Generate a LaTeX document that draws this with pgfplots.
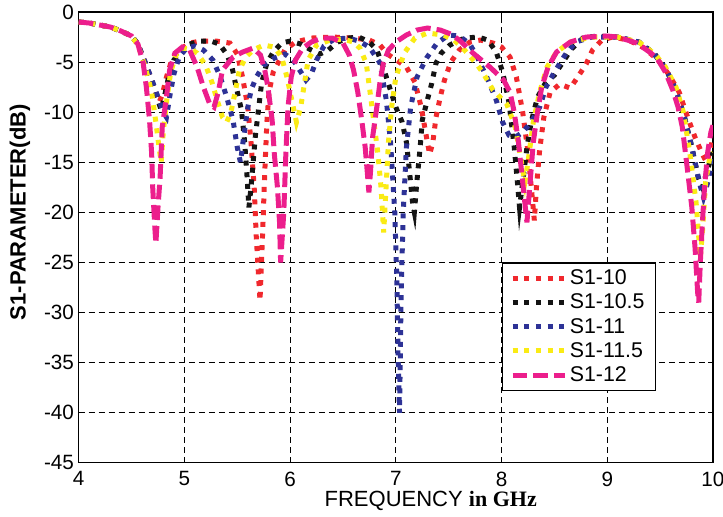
\documentclass[border=0pt]{standalone}
\usepackage{fontspec}
\setmainfont{Liberation Sans}
\newfontfamily\timesfont{Liberation Serif}
\usepackage{pgfplots}
\pgfplotsset{compat=1.18}
\definecolor{sred}{RGB}{240,40,45}
\definecolor{sblack}{RGB}{20,20,20}
\definecolor{sblue}{RGB}{45,50,150}
\definecolor{syellow}{RGB}{250,235,20}
\definecolor{smag}{RGB}{236,30,140}

\begin{document}
\begin{tikzpicture}
\useasboundingbox (-59pt,-40.5pt) rectangle (483pt,347pt);
\begin{axis}[
    at={(0pt,0pt)}, anchor=south west,
    scale only axis,
    width=475.5pt, height=338pt,
    xmin=4, xmax=10, ymin=-45, ymax=0,
    xtick={4,5,...,10},
    ytick={-45,-40,...,0},
    grid=major,
    major grid style={black, line width=0.7pt, dash pattern=on 4.5pt off 3pt},
    axis line style={black, line width=0.8pt},
    tick align=inside, tick pos=both,
    major tick length=4pt,
    tick style={black, line width=0.6pt},
    /pgf/number format/assume math mode=true,
    ticklabel style={font=\fontsize{15.5}{18}\selectfont},
    xticklabel style={yshift=-3pt},
    xlabel={FREQUENCY {\timesfont\bfseries in GHz}},
    ylabel={\bfseries S1-PARAMETER(dB)},
    label style={font=\fontsize{16.5}{20}\selectfont},
    xlabel style={at={([yshift=-32.5pt]rel axis cs:0.555,0)}, anchor=base},
    ylabel style={at={([xshift=-44pt]rel axis cs:0,0.556)}, anchor=center},
    legend style={at={(axis cs:8,-25)}, anchor=north west, draw=black, line width=0.8pt,
        font=\fontsize{16}{19}\selectfont, inner xsep=6pt, inner ysep=3pt, row sep=1.5pt},
    legend cell align=left,
    legend image code/.code={\draw[#1] (0pt,0pt) -- (39pt,0pt);},
]
\addplot[sred, line width=3.75pt, dash pattern=on 3.75pt off 5pt] coordinates {
(4.0,-1.0) (4.1,-1.1) (4.2,-1.3) (4.3,-1.5) (4.4,-1.9) (4.5,-2.4) (4.56,-3.2)
(4.62,-4.8) (4.68,-6.5) (4.73,-8.2) (4.76,-9.0) (4.79,-8.3) (4.83,-6.5) (4.88,-4.8)
(4.95,-3.8) (5.05,-3.1) (5.15,-2.9) (5.30,-2.9) (5.43,-3.1) (5.50,-4.2) (5.55,-6.5)
(5.60,-9.5) (5.63,-13) (5.66,-17.5) (5.68,-22.5) (5.715,-28.8) (5.74,-22) (5.76,-16)
(5.78,-11) (5.80,-8) (5.84,-6) (5.88,-5.2) (5.95,-3.8) (6.05,-3.0) (6.20,-2.6)
(6.40,-2.5) (6.60,-2.6) (6.75,-2.8) (6.85,-3.3) (6.92,-4.2) (7.02,-4.9) (7.10,-5.5)
(7.18,-7.0) (7.24,-9.5) (7.29,-12.5) (7.32,-14.2) (7.35,-13) (7.38,-10.5) (7.42,-8.5)
(7.46,-6.8) (7.52,-5.0) (7.60,-3.8) (7.70,-3.0) (7.80,-2.8) (7.92,-3.1) (8.00,-3.5)
(8.08,-4.5) (8.14,-6.5) (8.20,-10) (8.25,-14) (8.29,-18.5) (8.31,-20.8) (8.33,-17.5)
(8.36,-13.8) (8.40,-10.5) (8.46,-8.0) (8.55,-7.2) (8.65,-7.6) (8.72,-6.5) (8.80,-5.2)
(8.86,-3.8) (8.95,-2.8) (9.05,-2.5) (9.20,-2.8) (9.35,-3.6) (9.48,-4.8) (9.58,-6.2)
(9.68,-8.0) (9.76,-10.5) (9.83,-12.5) (9.90,-14.2) (9.94,-15) (9.97,-14) (10.0,-12.5)
};
\addlegendentry{S1-10}
\addplot[sblack, line width=3.75pt, dash pattern=on 3.75pt off 5pt] coordinates {
(4.0,-1.0) (4.1,-1.1) (4.2,-1.3) (4.3,-1.5) (4.4,-1.9) (4.5,-2.4) (4.56,-3.2)
(4.64,-5.5) (4.70,-7.1) (4.75,-8.8) (4.78,-9.8) (4.81,-8.5) (4.85,-6.5) (4.90,-4.8)
(4.97,-3.8) (5.05,-3.2) (5.15,-2.9) (5.25,-2.9) (5.33,-3.2) (5.40,-4.2) (5.45,-5.5)
(5.49,-7.5) (5.54,-9.8) (5.57,-13) (5.59,-16) (5.61,-19.5) (5.63,-17.5) (5.65,-15)
(5.67,-12.5) (5.70,-9.8) (5.73,-7.1) (5.78,-5.1) (5.84,-4.0) (5.92,-3.1) (6.00,-2.9)
(6.10,-3.2) (6.20,-3.8) (6.28,-4.2) (6.36,-3.8) (6.45,-3.0) (6.55,-2.6) (6.65,-2.5)
(6.75,-3.0) (6.82,-3.8) (6.88,-5.5) (6.94,-7.5) (7.00,-9.5) (7.06,-11) (7.10,-13)
(7.13,-16) (7.16,-19.2) (7.175,-20) (7.20,-16.8) (7.23,-13.5) (7.25,-10.8) (7.29,-9.1)
(7.34,-7.1) (7.38,-5.1) (7.43,-4.1) (7.51,-3.3) (7.65,-2.6) (7.78,-2.5) (7.87,-2.8)
(7.95,-4.0) (8.01,-6.0) (8.07,-9.0) (8.12,-13.5) (8.15,-17) (8.17,-19.5) (8.20,-17)
(8.24,-13.5) (8.28,-11) (8.34,-8.5) (8.42,-7.0) (8.50,-6.3) (8.58,-5.0) (8.66,-3.7)
(8.77,-2.6) (8.90,-2.4) (9.10,-2.5) (9.30,-3.0) (9.45,-4.2) (9.55,-5.6) (9.65,-7.8)
(9.73,-10.5) (9.80,-13.5) (9.86,-16.5) (9.90,-17.5) (9.94,-16) (10.0,-14)
};
\addlegendentry{S1-10.5}
\addplot[sblue, line width=3.75pt, dash pattern=on 3.75pt off 5pt] coordinates {
(4.0,-1.0) (4.1,-1.1) (4.2,-1.3) (4.3,-1.5) (4.4,-1.9) (4.5,-2.4) (4.56,-3.2)
(4.64,-5.3) (4.70,-7.0) (4.76,-8.8) (4.80,-10.0) (4.83,-10.5) (4.86,-8.5) (4.90,-6.2)
(4.95,-4.5) (5.02,-3.6) (5.10,-3.4) (5.18,-3.8) (5.27,-4.8) (5.34,-6.5) (5.40,-8.5)
(5.46,-10.8) (5.50,-13.5) (5.53,-15) (5.56,-12.5) (5.60,-9.5) (5.63,-7.8) (5.68,-6.5)
(5.75,-5.3) (5.85,-4.6) (5.95,-4.2) (6.03,-4.8) (6.09,-5.8) (6.15,-6.8) (6.20,-6.2)
(6.25,-4.8) (6.32,-3.4) (6.42,-2.7) (6.55,-2.6) (6.65,-2.9) (6.75,-3.5) (6.85,-5.1)
(6.91,-8.8) (6.95,-13) (6.99,-20) (7.01,-27) (7.02,-34) (7.035,-40) (7.05,-28)
(7.07,-20) (7.10,-13.5) (7.14,-9.5) (7.20,-6.5) (7.29,-4.6) (7.39,-3.1) (7.50,-2.3)
(7.60,-2.4) (7.70,-3.2) (7.77,-4.5) (7.86,-6.5) (7.95,-8.8) (8.01,-11) (8.07,-12.3)
(8.13,-12.5) (8.20,-12) (8.28,-11) (8.36,-9.5) (8.42,-7.5) (8.50,-6.0) (8.60,-4.3)
(8.70,-3.0) (8.85,-2.5) (9.10,-2.5) (9.30,-3.0) (9.45,-4.3) (9.55,-5.6) (9.65,-7.8)
(9.73,-10.5) (9.80,-13.5) (9.87,-17) (9.91,-18.5) (9.95,-17) (10.0,-14.5)
};
\addlegendentry{S1-11}
\addplot[syellow, line width=3.75pt, dash pattern=on 3.75pt off 5pt] coordinates {
(4.0,-1.0) (4.1,-1.1) (4.2,-1.3) (4.3,-1.5) (4.4,-1.9) (4.5,-2.4) (4.56,-3.3)
(4.63,-5.5) (4.69,-8) (4.73,-11) (4.76,-13.5) (4.78,-15) (4.80,-12) (4.83,-9)
(4.87,-6) (4.92,-4.3) (4.98,-3.6) (5.06,-3.7) (5.12,-4.1) (5.20,-5.3) (5.26,-7.0)
(5.31,-8.8) (5.36,-10.5) (5.40,-11) (5.44,-10) (5.48,-8) (5.52,-5.8) (5.58,-4.5)
(5.65,-3.8) (5.75,-3.3) (5.85,-3.5) (5.92,-4.5) (5.97,-6.5) (6.02,-9) (6.06,-11)
(6.10,-9.5) (6.13,-7.5) (6.17,-4.8) (6.25,-3.3) (6.38,-2.8) (6.50,-2.7) (6.60,-3.0)
(6.66,-3.6) (6.72,-5.1) (6.75,-7.5) (6.79,-10.8) (6.83,-14.1) (6.86,-17.5) (6.885,-22)
(6.91,-17) (6.93,-13) (6.96,-9.5) (7.00,-6.5) (7.08,-4.1) (7.18,-2.6) (7.30,-2.1)
(7.45,-2.3) (7.55,-2.8) (7.65,-3.8) (7.75,-5.0) (7.82,-6.0) (7.92,-7.8) (8.05,-9.2)
(8.13,-11.5) (8.18,-14.5) (8.22,-17) (8.25,-15) (8.30,-11) (8.36,-8) (8.43,-5.5)
(8.52,-4.0) (8.65,-3.0) (8.85,-2.5) (9.10,-2.5) (9.30,-3.0) (9.45,-4.2) (9.55,-5.5)
(9.65,-7.5) (9.72,-10) (9.78,-14) (9.84,-19) (9.88,-24.5) (9.90,-22) (9.93,-17)
(9.97,-14.5) (10.0,-14)
};
\addlegendentry{S1-11.5}
\addplot[smag, line width=3.75pt, dash pattern=on 11pt off 4.5pt] coordinates {
(4.0,-1.0) (4.1,-1.1) (4.2,-1.3) (4.3,-1.5) (4.4,-1.9) (4.5,-2.4) (4.56,-3.2)
(4.61,-5.1) (4.64,-7.5) (4.67,-10.8) (4.69,-14.1) (4.70,-17.5) (4.72,-21.5) (4.73,-23.1)
(4.75,-19.5) (4.77,-16.5) (4.79,-11.5) (4.83,-8.5) (4.86,-5.8) (4.91,-4.1) (4.98,-3.5)
(5.05,-3.8) (5.12,-5.5) (5.18,-7.5) (5.24,-9.2) (5.28,-9.5) (5.32,-8.0) (5.36,-5.8)
(5.46,-4.5) (5.55,-4.0) (5.65,-3.6) (5.72,-4.3) (5.76,-5.8) (5.79,-7.5) (5.83,-10.8)
(5.85,-14.1) (5.88,-17.5) (5.90,-21) (5.91,-25) (5.94,-20) (5.96,-14) (5.98,-9.5)
(6.01,-6.5) (6.05,-4.8) (6.12,-3.6) (6.20,-3.0) (6.30,-2.6) (6.40,-2.6) (6.50,-3.1)
(6.56,-4.3) (6.60,-5.8) (6.64,-8.0) (6.68,-11) (6.71,-13.5) (6.73,-16) (6.745,-18)
(6.76,-16) (6.78,-12.5) (6.82,-9.5) (6.85,-7.0) (6.88,-5.2) (6.93,-3.8) (7.00,-3.0)
(7.10,-2.3) (7.20,-1.8) (7.30,-1.6) (7.42,-1.8) (7.52,-2.2) (7.60,-2.8) (7.73,-4.1)
(7.89,-5.5) (8.02,-6.8) (8.08,-8.0) (8.12,-10) (8.16,-13) (8.19,-16) (8.22,-19)
(8.24,-21) (8.27,-17) (8.30,-13) (8.34,-10) (8.38,-7.5) (8.44,-5.5) (8.52,-4.0)
(8.65,-3.0) (8.80,-2.5) (9.00,-2.4) (9.10,-2.5) (9.28,-3.1) (9.40,-4.0) (9.47,-4.6)
(9.55,-6.0) (9.62,-7.8) (9.67,-9.5) (9.71,-11.5) (9.75,-15) (9.80,-19.5) (9.83,-23.5)
(9.855,-28) (9.865,-29) (9.88,-25) (9.90,-21) (9.92,-17.5) (9.95,-14) (9.98,-12)
(10.0,-11.3)
};
\addlegendentry{S1-12}
\end{axis}
\end{tikzpicture}
\end{document}
